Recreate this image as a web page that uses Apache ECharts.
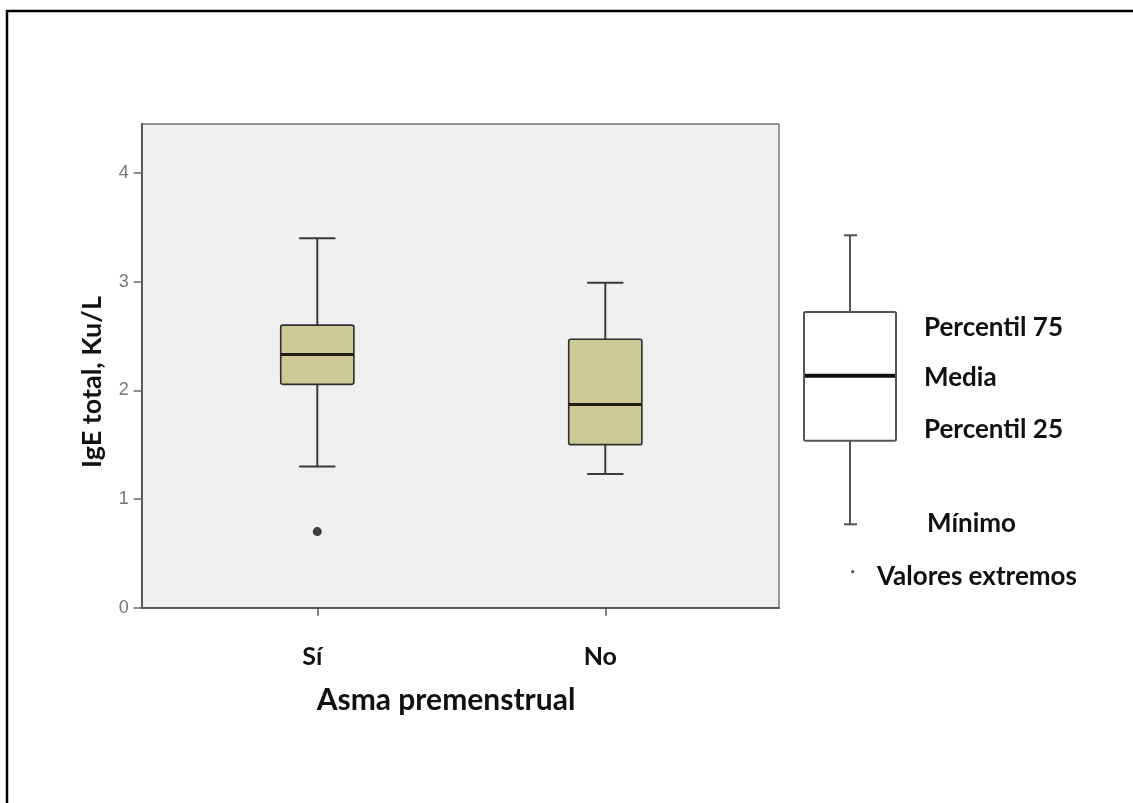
<!DOCTYPE html>
<html>
<head>
<meta charset="utf-8">
<title>IgE total por asma premenstrual</title>
<script src="https://cdn.jsdelivr.net/npm/echarts@6/dist/echarts.min.js"></script>
<style>
  html, body { margin: 0; padding: 0; background: #ffffff; }
  #chart { width: 1133px; height: 803px; }
</style>
</head>
<body>
<div id="chart"></div>
<script>
// Groups on the horizontal axis
const categories = ['Sí', 'No'];
// Five-number summary per group: whisker low, P25, median, P75, whisker high
const whiskerLow = [1.30, 1.23];
const percentil25 = [2.055, 1.50];
const medians = [2.33, 1.87];
const percentil75 = [2.60, 2.47];
const whiskerHigh = [3.40, 2.99];
// Extreme values (group, value)
const outlierGroups = ['Sí'];
const outlierValues = [0.70];
// Vertical axis ticks
const yTicks = [0, 1, 2, 3, 4];
const yMax = 4.45;

const boxData = categories.map((c, i) => [i, whiskerLow[i], percentil25[i], medians[i], percentil75[i], whiskerHigh[i]]);
const outlierData = outlierGroups.map((g, i) => [g, outlierValues[i]]);

const BOLD = 'Lato, "Open Sans", sans-serif';

function renderBox(params, api) {
  const x = api.value(0);
  const lo = api.coord([x, api.value(1)]);
  const q1 = api.coord([x, api.value(2)]);
  const md = api.coord([x, api.value(3)]);
  const q3 = api.coord([x, api.value(4)]);
  const hi = api.coord([x, api.value(5)]);
  const band = api.size([1, 0])[0];
  const half = band * 0.127;
  const cap = band * 0.063;
  const cx = md[0];
  const lineStyle = { stroke: '#3a3a3a', lineWidth: 2 };
  return {
    type: 'group',
    children: [
      { type: 'line', shape: { x1: cx, y1: hi[1], x2: cx, y2: q3[1] }, style: lineStyle },
      { type: 'line', shape: { x1: cx, y1: q1[1], x2: cx, y2: lo[1] }, style: lineStyle },
      { type: 'line', shape: { x1: cx - cap, y1: hi[1], x2: cx + cap, y2: hi[1] }, style: lineStyle },
      { type: 'line', shape: { x1: cx - cap, y1: lo[1], x2: cx + cap, y2: lo[1] }, style: lineStyle },
      { type: 'rect', shape: { x: cx - half, y: q3[1], width: half * 2, height: q1[1] - q3[1], r: 2 },
        style: { fill: '#cdc996', stroke: '#2e2e2e', lineWidth: 1.6 } },
      { type: 'line', shape: { x1: cx - half, y1: md[1], x2: cx + half, y2: md[1] },
        style: { stroke: '#1e1e12', lineWidth: 3 } }
    ]
  };
}

const chart = echarts.init(document.getElementById('chart'), null, { renderer: 'canvas' });

const legendText = (text, x, y) => ({
  type: 'text', x: x, y: y,
  style: { text: text, fontFamily: BOLD, fontWeight: 'bold', fontSize: 26, fill: '#111', textVerticalAlign: 'middle' }
});

chart.setOption({
  backgroundColor: '#ffffff',
  animation: false,
  grid: [
    { left: 141.7, right: 354, top: 124, bottom: 195.3, show: true,
      backgroundColor: '#f0f0f0', borderColor: '#7a7a7a', borderWidth: 1.5 },
    { left: 173.3, right: 383.7, top: 124, bottom: 195.3 }
  ],
  xAxis: [
    { type: 'value', gridIndex: 0, min: 0, max: 1,
      axisLine: { show: true, lineStyle: { color: '#5a5a5a', width: 2 } },
      axisTick: { show: false }, axisLabel: { show: false }, splitLine: { show: false } },
    { type: 'category', gridIndex: 1, data: categories, boundaryGap: true,
      axisLine: { show: false },
      axisTick: { show: true, alignWithLabel: true, length: 8, lineStyle: { color: '#555', width: 1.5 } },
      axisLabel: { margin: 37, color: '#111', fontFamily: BOLD, fontWeight: 'bold', fontSize: 25,
        padding: [0, 10, 0, 0] },
      splitLine: { show: false } }
  ],
  yAxis: [
    { type: 'value', gridIndex: 0, min: 0, max: yMax,
      axisLine: { show: true, lineStyle: { color: '#5a5a5a', width: 2 } },
      axisTick: { show: true, length: 8, customValues: yTicks, lineStyle: { color: '#666', width: 1.5 } },
      axisLabel: { customValues: yTicks, margin: 13, color: '#777', fontFamily: '"Liberation Sans", Arial, sans-serif', fontSize: 18 },
      splitLine: { show: false } },
    { type: 'value', gridIndex: 1, min: 0, max: yMax, show: false }
  ],
  series: [
    { type: 'custom', name: 'IgE total', xAxisIndex: 1, yAxisIndex: 1,
      data: boxData, renderItem: renderBox, z: 3,
      encode: { x: 0, y: [1, 2, 3, 4, 5] } },
    { type: 'scatter', name: 'Valores extremos', xAxisIndex: 1, yAxisIndex: 1,
      data: outlierData, symbol: 'circle', symbolSize: 9,
      itemStyle: { color: '#111' }, z: 4 }
  ],
  graphic: [
    // page frame (top and left edges)
    { type: 'line', shape: { x1: 7, y1: 10, x2: 7, y2: 803 }, style: { stroke: '#000', lineWidth: 2.5 } },
    { type: 'line', shape: { x1: 6, y1: 11, x2: 1133, y2: 11 }, style: { stroke: '#000', lineWidth: 2.5 } },
    // axis titles
    { type: 'text', x: 92, y: 382, rotation: Math.PI / 2,
      style: { text: 'IgE total, Ku/L', fontFamily: BOLD, fontWeight: 'bold', fontSize: 27,
        fill: '#111', textAlign: 'center', textVerticalAlign: 'middle' } },
    { type: 'text', x: 446, y: 700,
      style: { text: 'Asma premenstrual', fontFamily: BOLD, fontWeight: 'bold', fontSize: 30,
        fill: '#111', textAlign: 'center', textVerticalAlign: 'middle' } },
    // key explaining the box-and-whisker symbol
    { type: 'group', children: [
      { type: 'line', shape: { x1: 850, y1: 235.3, x2: 850, y2: 312 }, style: { stroke: '#555', lineWidth: 2 } },
      { type: 'line', shape: { x1: 850, y1: 440.7, x2: 850, y2: 524.3 }, style: { stroke: '#555', lineWidth: 2 } },
      { type: 'line', shape: { x1: 844, y1: 235.3, x2: 857, y2: 235.3 }, style: { stroke: '#555', lineWidth: 2 } },
      { type: 'line', shape: { x1: 844, y1: 524.3, x2: 857, y2: 524.3 }, style: { stroke: '#555', lineWidth: 2 } },
      { type: 'rect', shape: { x: 804, y: 312, width: 92, height: 128.7, r: 1.5 },
        style: { fill: '#ffffff', stroke: '#555', lineWidth: 2 } },
      { type: 'line', shape: { x1: 805, y1: 375.7, x2: 895, y2: 375.7 }, style: { stroke: '#111', lineWidth: 4 } },
      { type: 'circle', shape: { cx: 852.7, cy: 571.7, r: 1.6 }, style: { fill: '#555' } },
      legendText('Percentil 75', 924, 328),
      legendText('Media', 924, 378),
      legendText('Percentil 25', 924, 430),
      legendText('Mínimo', 927, 524),
      legendText('Valores extremos', 877, 577)
    ] }
  ]
});
</script>
</body>
</html>
